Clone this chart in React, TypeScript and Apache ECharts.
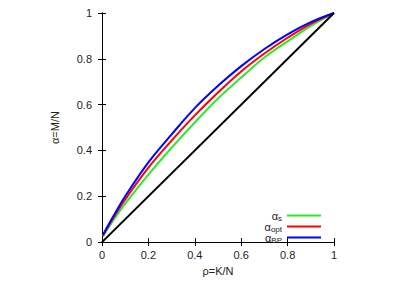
import React, { useEffect, useRef } from "react";
import * as echarts from "echarts";

// [rho, alpha] pairs
const alphaS: [number, number][] = [
  [0.004, 0.025], [0.05, 0.097], [0.1, 0.168], [0.2, 0.295], [0.3, 0.412], [0.4, 0.522],
  [0.5, 0.627], [0.6, 0.718], [0.7, 0.806], [0.8, 0.876], [0.9, 0.944], [1, 1],
];
const alphaOpt: [number, number][] = [
  [0.004, 0.028], [0.05, 0.107], [0.1, 0.186], [0.2, 0.325], [0.3, 0.443], [0.4, 0.553],
  [0.5, 0.653], [0.6, 0.745], [0.7, 0.823], [0.8, 0.892], [0.9, 0.953], [1, 1],
];
const alphaBP: [number, number][] = [
  [0.004, 0.032], [0.05, 0.115], [0.1, 0.2], [0.2, 0.348], [0.3, 0.47], [0.4, 0.585],
  [0.5, 0.682], [0.6, 0.768], [0.7, 0.843], [0.8, 0.907], [0.9, 0.96], [1, 1],
];
const diagonal: [number, number][] = [[0, 0], [1, 1]];

const seriesNames = ["α_s", "α_opt", "α_BP"];
const subscripts: Record<string, string> = { "α_s": "s", "α_opt": "opt", "α_BP": "BP" };
const colors = ["#2ee82e", "#ff0000", "#0000ff"];

const FONT = "Liberation Sans, Arial, sans-serif";

export default function App() {
  const ref = useRef<HTMLDivElement>(null);
  useEffect(() => {
    if (!ref.current) return;
    const chart = echarts.init(ref.current, undefined, { renderer: "svg" });
    const axisCommon = {
      type: "value" as const,
      min: 0,
      max: 1,
      interval: 0.2,
      axisLine: { show: true, lineStyle: { color: "#000", width: 1 } },
      axisTick: { show: true, inside: true, length: 4, lineStyle: { color: "#000" } },
      splitLine: { show: false },
    };
    chart.setOption({
      animation: false,
      backgroundColor: "#fff",
      grid: { left: 102, top: 13, width: 232, height: 232 },
      xAxis: [
        {
          ...axisCommon,
          position: "bottom",
          name: "ρ=K/N",
          nameLocation: "middle",
          nameGap: 20,
          nameTextStyle: { fontFamily: FONT, fontSize: 11, color: "#222" },
          axisLabel: { fontFamily: FONT, fontSize: 11, color: "#222", margin: 7 },
        },
        { ...axisCommon, position: "top", axisLabel: { show: false } },
      ],
      yAxis: [
        {
          ...axisCommon,
          position: "left",
          name: "α=M/N",
          nameLocation: "middle",
          nameGap: 42,
          nameTextStyle: { fontFamily: FONT, fontSize: 11, color: "#222" },
          axisLabel: { fontFamily: FONT, fontSize: 11, color: "#222", margin: 10 },
        },
        { ...axisCommon, position: "right", axisLabel: { show: false } },
      ],
      legend: {
        data: seriesNames,
        orient: "vertical",
        align: "right",
        right: 81,
        top: 209,
        padding: 0,
        itemWidth: 34,
        itemHeight: 2,
        itemGap: -2,
        icon: "rect",
        formatter: (name: string) => `{a|α}{s|${subscripts[name]}}`,
        textStyle: {
          fontFamily: FONT,
          color: "#222",
          rich: {
            a: { fontFamily: FONT, fontSize: 11, lineHeight: 9, color: "#222" },
            s: { fontFamily: FONT, fontSize: 8, lineHeight: 5, padding: [5, 0, 0, 0], color: "#222" },
          },
        },
      },
      series: [
        {
          name: "α_s", type: "line", data: alphaS, smooth: 0.4, showSymbol: false,
          lineStyle: { color: colors[0], width: 2 }, itemStyle: { color: colors[0] }, z: 3,
        },
        {
          name: "α_opt", type: "line", data: alphaOpt, smooth: 0.4, showSymbol: false,
          lineStyle: { color: colors[1], width: 2 }, itemStyle: { color: colors[1] }, z: 4,
        },
        {
          name: "α_BP", type: "line", data: alphaBP, smooth: 0.4, showSymbol: false,
          lineStyle: { color: colors[2], width: 2 }, itemStyle: { color: colors[2] }, z: 5,
        },
        {
          name: "diag", type: "line", data: diagonal, showSymbol: false,
          lineStyle: { color: "#000", width: 2 }, z: 6,
        },
      ],
    });
    return () => chart.dispose();
  }, []);
  return (
    <div
      ref={ref}
      style={{ position: "fixed", left: 0, top: 0, width: 402, height: 281 }}
    />
  );
}
